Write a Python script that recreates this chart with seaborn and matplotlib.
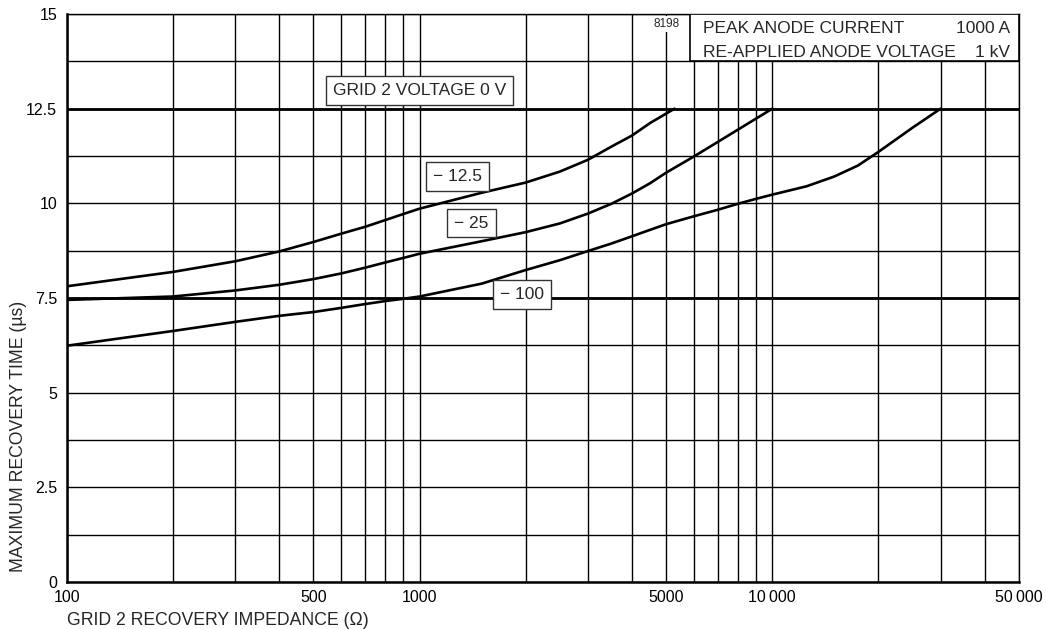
import matplotlib
matplotlib.use("Agg")
import matplotlib.pyplot as plt
import matplotlib.patches as mpatches
import matplotlib.ticker as mticker
import numpy as np
import pandas as pd
import seaborn as sns

# curve readings (impedance in ohm, recovery time in us)
imp_125 = [100, 200, 300, 400, 500, 600, 700, 800, 900, 1000, 1500, 2000, 2500, 3000,
           3500, 4000, 4500, 5280]
time_125 = [7.81, 8.19, 8.47, 8.73, 8.98, 9.20, 9.38, 9.56, 9.72, 9.86, 10.28, 10.55,
            10.84, 11.15, 11.50, 11.79, 12.12, 12.5]

imp_25 = [100, 200, 300, 400, 500, 600, 700, 800, 900, 1000, 1500, 2000, 2500, 3000,
          3500, 4000, 4500, 5000, 6000, 7000, 8000, 9000, 10000]
time_25 = [7.45, 7.54, 7.70, 7.85, 8.00, 8.15, 8.30, 8.44, 8.56, 8.67, 9.00, 9.24, 9.47,
           9.73, 9.99, 10.26, 10.53, 10.81, 11.24, 11.62, 11.95, 12.24, 12.5]

imp_100 = [100, 200, 300, 400, 500, 600, 700, 800, 900, 1000, 1500, 2000, 2500, 3000,
           3500, 4000, 4500, 5000, 6000, 7000, 8000, 9000, 10000, 12500, 15000, 17500,
           20000, 25000, 30000]
time_100 = [6.24, 6.63, 6.87, 7.03, 7.13, 7.24, 7.34, 7.42, 7.48, 7.54, 7.88, 8.24, 8.50,
            8.74, 8.94, 9.13, 9.30, 9.45, 9.66, 9.83, 9.99, 10.12, 10.23, 10.45, 10.71,
            11.00, 11.36, 12.00, 12.5]

curve_labels = ["\u2212 12.5", "\u2212 25", "\u2212 100"]
label_pos = [(1280, 10.72), (1403, 9.48), (1956, 7.59)]

x_ticks = [100, 500, 1000, 5000, 10000, 50000]
x_ticklabels = ["100", "500", "1000", "5000", "10\u2009000", "50\u2009000"]
y_ticks = [0, 2.5, 5, 7.5, 10, 12.5, 15]
y_ticklabels = ["0", "2.5", "5", "7.5", "10", "12.5", "15"]
heavy_lines = [7.5, 12.5]

df = pd.concat([
    pd.DataFrame({"imp": imp_125, "t": time_125, "v": curve_labels[0]}),
    pd.DataFrame({"imp": imp_25, "t": time_25, "v": curve_labels[1]}),
    pd.DataFrame({"imp": imp_100, "t": time_100, "v": curve_labels[2]}),
])

sns.set_theme(style="white")
plt.rcParams["font.family"] = ["Liberation Sans", "DejaVu Sans"]

fig = plt.figure(figsize=(10.46, 6.29), dpi=100)
ax = fig.add_axes([0.064, 0.0747, 0.910, 0.903])

sns.lineplot(data=df, x="imp", y="t", units="v", estimator=None, sort=False,
             color="black", lw=1.9, ax=ax, zorder=3, legend=False)

ax.set_xscale("log")
ax.set_xlim(100, 50000)
ax.set_ylim(0, 15)

ax.set_xticks(x_ticks)
ax.set_xticklabels(x_ticklabels)
ax.xaxis.set_minor_locator(mticker.LogLocator(base=10, subs=np.arange(1, 10)))
ax.xaxis.set_minor_formatter(mticker.NullFormatter())
ax.set_yticks(y_ticks)
ax.set_yticklabels(y_ticklabels)
ax.yaxis.set_minor_locator(mticker.MultipleLocator(1.25))
ax.tick_params(which="both", length=0, labelsize=11.5, colors="black")
ax.tick_params(axis="y", pad=7)
ax.tick_params(axis="x", pad=6)

ax.set_axisbelow(True)
ax.grid(which="both", color="black", lw=1.0)
for yv in heavy_lines:
    ax.axhline(yv, color="black", lw=2.0, zorder=1)

for side in ["top", "right"]:
    ax.spines[side].set_linewidth(1.0)
for side in ["left", "bottom"]:
    ax.spines[side].set_linewidth(1.8)
for sp in ax.spines.values():
    sp.set_color("black")

box_style = dict(boxstyle="square,pad=0.4", fc="white", ec="#333333", lw=1.0)
for text, (xv, yv) in zip(curve_labels, label_pos):
    ax.text(xv, yv, text, ha="center", va="center", fontsize=12.5, bbox=box_style, zorder=5)

ax.text(1000, 12.97, "GRID 2 VOLTAGE 0 V", ha="center", va="center", fontsize=12.5,
        bbox=dict(boxstyle="square,pad=0.4", fc="white", ec="#333333", lw=1.0), zorder=5)

# conditions box, top right
ax.add_patch(mpatches.Rectangle((5840, 13.75), 50000 - 5840, 1.25, fc="white", ec="black",
                                lw=1.2, zorder=4))
ax.text(6357, 14.49, "PEAK ANODE CURRENT", ha="left", va="baseline", fontsize=12.5, zorder=5)
ax.text(47300, 14.49, "1000 A", ha="right", va="baseline", fontsize=12.5, zorder=5)
ax.text(6357, 13.86, "RE-APPLIED ANODE VOLTAGE", ha="left", va="baseline", fontsize=12.5,
        zorder=5)
ax.text(47300, 13.86, "1 kV", ha="right", va="baseline", fontsize=12.5, zorder=5)
ax.text(5000, 14.74, "8198", ha="center", va="center", fontsize=8.5, zorder=5,
        bbox=dict(boxstyle="square,pad=0.2", fc="white", ec="none"))

ax.set_xlabel("GRID 2 RECOVERY IMPEDANCE (\u03a9)", fontsize=12.7, loc="left")
ax.xaxis.set_label_coords(0.0, -0.053)
ax.xaxis.label.set_va("top")
ax.set_ylabel("MAXIMUM RECOVERY TIME (\u00b5s)", fontsize=12.7, loc="bottom")
ax.yaxis.set_label_coords(-0.042, 0.018)

fig.savefig("out.png", dpi=100)
plt.close(fig)
